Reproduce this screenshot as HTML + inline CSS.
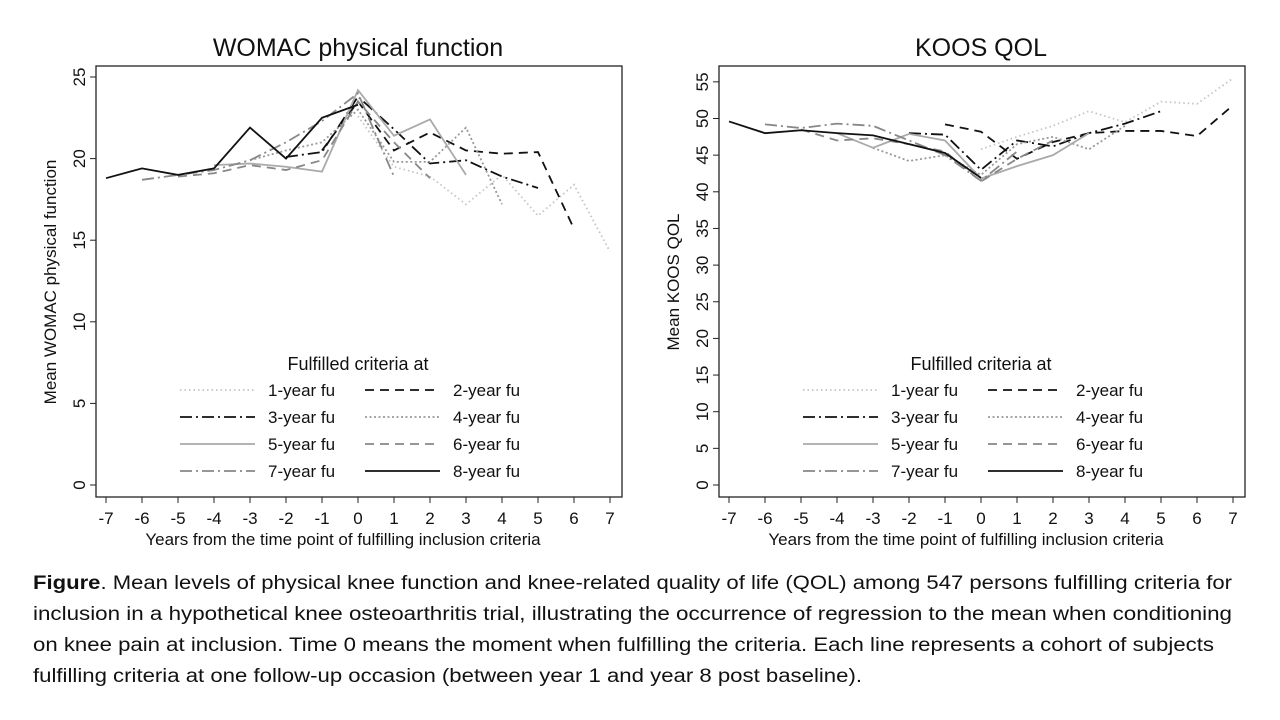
<!DOCTYPE html>
<html><head><meta charset="utf-8"><style>
body{margin:0;background:#fff;width:1280px;height:720px;overflow:hidden;font-family:"Liberation Sans",sans-serif}
</style></head><body>
<svg id="chart" width="1280" height="560" style="position:absolute;left:0;top:0"></svg>
<svg width="1280" height="160" style="position:absolute;left:0;top:560px" font-family="Liberation Sans, sans-serif" font-size="19" fill="#111">
<text x="33" y="29" textLength="1199" lengthAdjust="spacingAndGlyphs"><tspan font-weight="bold">Figure</tspan>. Mean levels of physical knee function and knee-related quality of life (QOL) among 547 persons fulfilling criteria for</text>
<text x="33" y="60" textLength="1199" lengthAdjust="spacingAndGlyphs">inclusion in a hypothetical knee osteoarthritis trial, illustrating the occurrence of regression to the mean when conditioning</text>
<text x="33" y="91" textLength="1181" lengthAdjust="spacingAndGlyphs">on knee pain at inclusion. Time 0 means the moment when fulfilling the criteria. Each line represents a cohort of subjects</text>
<text x="33" y="122" textLength="829" lengthAdjust="spacingAndGlyphs">fulfilling criteria at one follow-up occasion (between year 1 and year 8 post baseline).</text>
</svg>
<script>
const xTicks=[-7,-6,-5,-4,-3,-2,-1,0,1,2,3,4,5,6,7];
const seriesNames=["1-year fu","2-year fu","3-year fu","4-year fu","5-year fu","6-year fu","7-year fu","8-year fu"];
const seriesStart=[0,-1,-2,-3,-4,-5,-6,-7];
const womac1=[22.6,19.5,18.9,17.2,19.0,16.5,18.4,14.3];
const womac2=[20.5,23.5,20.5,21.6,20.5,20.3,20.4,15.7];
const womac3=[20.1,20.4,23.8,21.8,19.7,19.9,18.9,18.2];
const womac4=[19.9,20.5,21.0,23.0,19.8,19.8,21.9,17.2];
const womac5=[19.6,19.7,19.5,19.2,24.2,21.4,22.4,19.0];
const womac6=[18.9,19.1,19.6,19.3,19.9,23.5,21.0,18.8];
const womac7=[18.7,19.0,19.3,19.9,21.0,22.3,24.0,18.9];
const womac8=[18.8,19.4,19.0,19.4,21.9,20.0,22.5,23.3];
const koos1=[45.8,47.5,49.0,51.0,49.5,52.3,52.0,55.5];
const koos2=[49.2,48.2,44.5,46.8,48.0,48.3,48.3,47.6,51.8];
const koos3=[48.0,47.8,43.0,47.0,46.2,48.0,49.3,51.0];
const koos4=[46.0,44.2,45.0,42.3,46.5,47.5,45.8,49.0];
const koos5=[48.0,46.0,47.9,47.0,41.8,43.5,45.0,48.0];
const koos6=[48.5,47.0,47.3,46.5,45.5,41.4,44.5,47.0];
const koos7=[49.2,48.7,49.3,49.0,47.0,45.0,41.5,45.5];
const koos8=[49.6,48.0,48.4,48.0,47.7,46.5,45.3,41.9];
const womacYTicks=[0,5,10,15,20,25];
const koosYTicks=[0,5,10,15,20,25,30,35,40,45,50,55];
const styles=[
 {c:"#c4c4c4",d:"1.5,3"},{c:"#111",d:"9,6"},{c:"#111",d:"12,4,2,4"},{c:"#999",d:"2,2.5"},
 {c:"#aaa",d:""},{c:"#888",d:"9,6"},{c:"#888",d:"12,4,2,4"},{c:"#111",d:""}];
const NS="http://www.w3.org/2000/svg";
const svg=document.getElementById("chart");
function mk(t,a,p){const e=document.createElementNS(NS,t);for(const k in a)e.setAttribute(k,a[k]);(p||svg).appendChild(e);return e;}
function chart(o){
 const g=mk("g",{});
 
 
 const xs=v=>o.x0+(v+7)*36, ys=v=>485-v*o.ky;
 const fr=mk("rect",{x:o.x0-10,y:66,width:526,height:431,fill:"none",stroke:"#222","stroke-width":1.3},g);
 
 const t=mk("text",{x:o.x0+252,y:56,"text-anchor":"middle","font-size":25,fill:"#111"},g);t.textContent=o.title;
 
 xTicks.forEach(v=>{mk("line",{x1:xs(v),x2:xs(v),y1:497,y2:503,stroke:"#222"},g);
  const l=mk("text",{x:xs(v),y:524,"text-anchor":"middle","font-size":17,fill:"#111"},g);l.textContent=v;
  });
 const xt=mk("text",{x:o.x0+237,y:545,"text-anchor":"middle","font-size":17,fill:"#111"},g);
 xt.textContent="Years from the time point of fulfilling inclusion criteria";
 
 o.yt.forEach(v=>{const y=ys(v);mk("line",{x1:o.x0-16,x2:o.x0-10,y1:y,y2:y,stroke:"#222"},g);
  const l=mk("text",{x:o.x0-21,y:y,"text-anchor":"middle","font-size":17,fill:"#111",transform:`rotate(-90 ${o.x0-21} ${y})`},g);l.textContent=v;
  });
 const yx=o.x0-50,yy=o.yty;
 const yt=mk("text",{x:yx,y:yy,"text-anchor":"middle","font-size":17,fill:"#111",transform:`rotate(-90 ${yx} ${yy})`},g);
 yt.textContent=o.ytitle;
 o.data.forEach((arr,i)=>{
  const pts=arr.map((v,j)=>xs(seriesStart[i]+j)+","+ys(v)).join(" ");
  const p=mk("polyline",{points:pts,fill:"none",stroke:styles[i].c,"stroke-width":1.8,"stroke-dasharray":styles[i].d},g);
  
 });
 const lg=mk("g",{},g);
 const lt=mk("text",{x:o.x0+252,y:370,"text-anchor":"middle","font-size":18,fill:"#111"},lg);lt.textContent="Fulfilled criteria at";
 seriesNames.forEach((n,i)=>{const col=i%2,row=Math.floor(i/2);const lx=o.x0+74+col*185,ly=390+row*27;
  const e=mk("g",{},lg);
  mk("line",{x1:lx,x2:lx+75,y1:ly,y2:ly,stroke:styles[i].c,"stroke-width":1.8,"stroke-dasharray":styles[i].d},e);
  const tx=mk("text",{x:lx+88,y:ly+6,"font-size":17,fill:"#111"},e);tx.textContent=n;});
}
chart({name:"womac-chart",x0:106,ky:16.32,title:"WOMAC physical function",ytitle:"Mean WOMAC physical function",yty:282,yt:womacYTicks,data:[womac1,womac2,womac3,womac4,womac5,womac6,womac7,womac8]});
chart({name:"koos-chart",x0:729,ky:7.33,title:"KOOS QOL",ytitle:"Mean KOOS QOL",yty:282,yt:koosYTicks,data:[koos1,koos2,koos3,koos4,koos5,koos6,koos7,koos8]});
</script>
</body></html>
